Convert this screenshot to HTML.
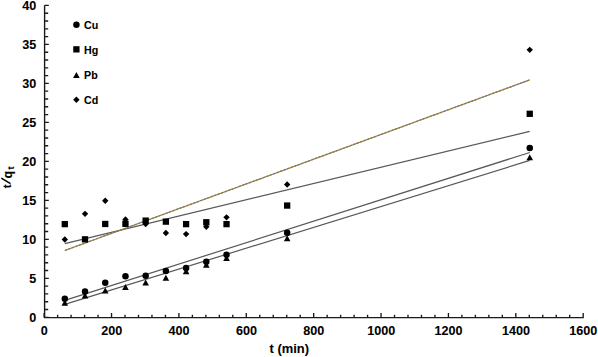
<!DOCTYPE html>
<html><head><meta charset="utf-8"><style>
html,body{margin:0;padding:0;background:#fff;}
body{width:598px;height:357px;overflow:hidden;}
svg{display:block;}
</style></head><body>
<svg width="598" height="357" viewBox="0 0 598 357" fill="#000">
<path d="M44.6 5.2V317.6H583.74" fill="none" stroke="#1a1a1a" stroke-width="1.4"/>
<path d="M44.6 317.30h4.2 M44.6 309.50h3.6 M44.6 301.71h3.6 M44.6 293.91h3.6 M44.6 286.11h3.6 M44.6 278.31h4.2 M44.6 270.52h3.6 M44.6 262.72h3.6 M44.6 254.92h3.6 M44.6 247.13h3.6 M44.6 239.33h4.2 M44.6 231.53h3.6 M44.6 223.74h3.6 M44.6 215.94h3.6 M44.6 208.14h3.6 M44.6 200.35h4.2 M44.6 192.55h3.6 M44.6 184.75h3.6 M44.6 176.95h3.6 M44.6 169.16h3.6 M44.6 161.36h4.2 M44.6 153.56h3.6 M44.6 145.77h3.6 M44.6 137.97h3.6 M44.6 130.17h3.6 M44.6 122.38h4.2 M44.6 114.58h3.6 M44.6 106.78h3.6 M44.6 98.98h3.6 M44.6 91.19h3.6 M44.6 83.39h4.2 M44.6 75.59h3.6 M44.6 67.80h3.6 M44.6 60.00h3.6 M44.6 52.20h3.6 M44.6 44.41h4.2 M44.6 36.61h3.6 M44.6 28.81h3.6 M44.6 21.01h3.6 M44.6 13.22h3.6 M44.6 5.42h4.2" stroke="#1a1a1a" stroke-width="1.35"/>
<path d="M44.15 317.6v-4.5 M57.63 317.6v-2.9 M71.10 317.6v-2.9 M84.58 317.6v-2.9 M98.05 317.6v-2.9 M111.53 317.6v-4.5 M125.01 317.6v-2.9 M138.48 317.6v-2.9 M151.96 317.6v-2.9 M165.43 317.6v-2.9 M178.91 317.6v-4.5 M192.39 317.6v-2.9 M205.86 317.6v-2.9 M219.34 317.6v-2.9 M232.81 317.6v-2.9 M246.29 317.6v-4.5 M259.77 317.6v-2.9 M273.24 317.6v-2.9 M286.72 317.6v-2.9 M300.19 317.6v-2.9 M313.67 317.6v-4.5 M327.15 317.6v-2.9 M340.62 317.6v-2.9 M354.10 317.6v-2.9 M367.57 317.6v-2.9 M381.05 317.6v-4.5 M394.53 317.6v-2.9 M408.00 317.6v-2.9 M421.48 317.6v-2.9 M434.95 317.6v-2.9 M448.43 317.6v-4.5 M461.91 317.6v-2.9 M475.38 317.6v-2.9 M488.86 317.6v-2.9 M502.33 317.6v-2.9 M515.81 317.6v-4.5 M529.29 317.6v-2.9 M542.76 317.6v-2.9 M556.24 317.6v-2.9 M569.71 317.6v-2.9 M583.19 317.6v-4.5" stroke="#1a1a1a" stroke-width="1.35"/>
<text x="36.3" y="321.80" font-family="Liberation Sans, sans-serif" font-weight="bold" stroke="#000" stroke-width="0.08" font-size="12.6" text-anchor="end">0</text>
<text x="36.3" y="282.81" font-family="Liberation Sans, sans-serif" font-weight="bold" stroke="#000" stroke-width="0.08" font-size="12.6" text-anchor="end">5</text>
<text x="36.3" y="243.83" font-family="Liberation Sans, sans-serif" font-weight="bold" stroke="#000" stroke-width="0.08" font-size="12.6" text-anchor="end">10</text>
<text x="36.3" y="204.85" font-family="Liberation Sans, sans-serif" font-weight="bold" stroke="#000" stroke-width="0.08" font-size="12.6" text-anchor="end">15</text>
<text x="36.3" y="165.86" font-family="Liberation Sans, sans-serif" font-weight="bold" stroke="#000" stroke-width="0.08" font-size="12.6" text-anchor="end">20</text>
<text x="36.3" y="126.88" font-family="Liberation Sans, sans-serif" font-weight="bold" stroke="#000" stroke-width="0.08" font-size="12.6" text-anchor="end">25</text>
<text x="36.3" y="87.89" font-family="Liberation Sans, sans-serif" font-weight="bold" stroke="#000" stroke-width="0.08" font-size="12.6" text-anchor="end">30</text>
<text x="36.3" y="48.91" font-family="Liberation Sans, sans-serif" font-weight="bold" stroke="#000" stroke-width="0.08" font-size="12.6" text-anchor="end">35</text>
<text x="36.3" y="9.92" font-family="Liberation Sans, sans-serif" font-weight="bold" stroke="#000" stroke-width="0.08" font-size="12.6" text-anchor="end">40</text>
<text x="44.35" y="335" font-family="Liberation Sans, sans-serif" font-weight="bold" stroke="#000" stroke-width="0.08" font-size="12.6" text-anchor="middle">0</text>
<text x="111.73" y="335" font-family="Liberation Sans, sans-serif" font-weight="bold" stroke="#000" stroke-width="0.08" font-size="12.6" text-anchor="middle">200</text>
<text x="179.11" y="335" font-family="Liberation Sans, sans-serif" font-weight="bold" stroke="#000" stroke-width="0.08" font-size="12.6" text-anchor="middle">400</text>
<text x="246.49" y="335" font-family="Liberation Sans, sans-serif" font-weight="bold" stroke="#000" stroke-width="0.08" font-size="12.6" text-anchor="middle">600</text>
<text x="313.87" y="335" font-family="Liberation Sans, sans-serif" font-weight="bold" stroke="#000" stroke-width="0.08" font-size="12.6" text-anchor="middle">800</text>
<text x="381.25" y="335" font-family="Liberation Sans, sans-serif" font-weight="bold" stroke="#000" stroke-width="0.08" font-size="12.6" text-anchor="middle">1000</text>
<text x="448.63" y="335" font-family="Liberation Sans, sans-serif" font-weight="bold" stroke="#000" stroke-width="0.08" font-size="12.6" text-anchor="middle">1200</text>
<text x="516.01" y="335" font-family="Liberation Sans, sans-serif" font-weight="bold" stroke="#000" stroke-width="0.08" font-size="12.6" text-anchor="middle">1400</text>
<text x="583.39" y="335" font-family="Liberation Sans, sans-serif" font-weight="bold" stroke="#000" stroke-width="0.08" font-size="12.6" text-anchor="middle">1600</text>
<text x="289.3" y="352.8" font-family="Liberation Sans, sans-serif" font-weight="bold" stroke="#000" stroke-width="0.08" font-size="12.9" text-anchor="middle">t (min)</text>
<g transform="rotate(-90)" font-family="Liberation Sans, sans-serif" font-weight="bold" stroke="#000" stroke-width="0.08"><text x="-188.2" y="11.1" font-size="11.5">t</text><text x="-174.6" y="11.5" text-anchor="middle" font-size="12.6">q</text><text x="-169.4" y="13.8" font-size="9.2">t</text></g>
<line x1="10.5" y1="183.6" x2="1.3" y2="178.2" stroke="#000" stroke-width="1.55"/>
<line x1="64.81" y1="300.38" x2="529.74" y2="152.47" stroke="#585858" stroke-width="1.2" />
<line x1="64.81" y1="304.43" x2="529.74" y2="160.42" stroke="#585858" stroke-width="1.2" />
<line x1="64.81" y1="243.62" x2="529.74" y2="131.42" stroke="#585858" stroke-width="1.2" />
<line x1="64.81" y1="250.48" x2="529.74" y2="79.88" stroke="#7d828c" stroke-width="1.2" />
<line x1="64.81" y1="250.48" x2="529.74" y2="79.88" stroke="#9a7a24" stroke-width="1.25" stroke-dasharray="2.3 1.4"/>
<g fill="#000"><path d="M64.81 236.36L68.01 239.56L64.81 242.76L61.61 239.56Z"/><path d="M85.03 210.63L88.23 213.83L85.03 217.03L81.83 213.83Z"/><path d="M105.24 197.53L108.44 200.73L105.24 203.93L102.04 200.73Z"/><path d="M125.46 216.25L128.66 219.45L125.46 222.65L122.26 219.45Z"/><path d="M145.67 220.77L148.87 223.97L145.67 227.17L142.47 223.97Z"/><path d="M165.88 229.81L169.08 233.01L165.88 236.21L162.68 233.01Z"/><path d="M186.10 230.91L189.30 234.11L186.10 237.31L182.90 234.11Z"/><path d="M206.31 223.50L209.51 226.70L206.31 229.90L203.11 226.70Z"/><path d="M226.53 214.14L229.73 217.34L226.53 220.54L223.33 217.34Z"/><path d="M287.17 181.32L290.37 184.52L287.17 187.72L283.97 184.52Z"/><path d="M529.74 46.66L532.94 49.86L529.74 53.06L526.54 49.86Z"/><rect x="61.66" y="220.98" width="6.3" height="6.3"/><rect x="81.88" y="236.18" width="6.3" height="6.3"/><rect x="102.09" y="220.82" width="6.3" height="6.3"/><rect x="122.31" y="220.66" width="6.3" height="6.3"/><rect x="142.52" y="217.47" width="6.3" height="6.3"/><rect x="162.73" y="218.48" width="6.3" height="6.3"/><rect x="182.95" y="220.98" width="6.3" height="6.3"/><rect x="203.16" y="219.10" width="6.3" height="6.3"/><rect x="223.38" y="220.98" width="6.3" height="6.3"/><rect x="284.02" y="202.42" width="6.3" height="6.3"/><rect x="526.59" y="110.65" width="6.3" height="6.3"/><path d="M64.81 299.85L68.11 305.85H61.51Z"/><path d="M85.03 292.52L88.33 298.52H81.73Z"/><path d="M105.24 287.46L108.54 293.46H101.94Z"/><path d="M125.46 283.95L128.76 289.95H122.16Z"/><path d="M145.67 279.43L148.97 285.43H142.37Z"/><path d="M165.88 274.67L169.18 280.67H162.58Z"/><path d="M186.10 268.35L189.40 274.35H182.80Z"/><path d="M206.31 261.80L209.61 267.80H203.01Z"/><path d="M226.53 255.10L229.83 261.10H223.23Z"/><path d="M287.17 235.14L290.47 241.14H283.87Z"/><path d="M529.74 154.36L533.04 160.36H526.44Z"/><circle cx="64.81" cy="298.74" r="3.25"/><circle cx="85.03" cy="291.41" r="3.25"/><circle cx="105.24" cy="282.68" r="3.25"/><circle cx="125.46" cy="276.21" r="3.25"/><circle cx="145.67" cy="275.74" r="3.25"/><circle cx="165.88" cy="270.91" r="3.25"/><circle cx="186.10" cy="268.10" r="3.25"/><circle cx="206.31" cy="261.71" r="3.25"/><circle cx="226.53" cy="254.69" r="3.25"/><circle cx="287.17" cy="232.70" r="3.25"/><circle cx="529.74" cy="148.11" r="3.25"/></g>
<g fill="#000"><circle cx="76.40" cy="24.85" r="3.25"/><text transform="translate(84 28.8) scale(0.93 1)" font-family="Liberation Sans, sans-serif" font-weight="bold" stroke="#000" stroke-width="0.08" font-size="11.5">Cu</text><rect x="73.25" y="46.20" width="6.3" height="6.3"/><text transform="translate(84 53.7) scale(0.93 1)" font-family="Liberation Sans, sans-serif" font-weight="bold" stroke="#000" stroke-width="0.08" font-size="11.5">Hg</text><path d="M76.40 72.10L79.70 78.10H73.10Z"/><text transform="translate(84 78.8) scale(0.93 1)" font-family="Liberation Sans, sans-serif" font-weight="bold" stroke="#000" stroke-width="0.08" font-size="11.5">Pb</text><path d="M76.40 96.60L79.60 99.80L76.40 103.00L73.20 99.80Z"/><text transform="translate(84 103.7) scale(0.93 1)" font-family="Liberation Sans, sans-serif" font-weight="bold" stroke="#000" stroke-width="0.08" font-size="11.5">Cd</text></g>
</svg>
</body></html>
